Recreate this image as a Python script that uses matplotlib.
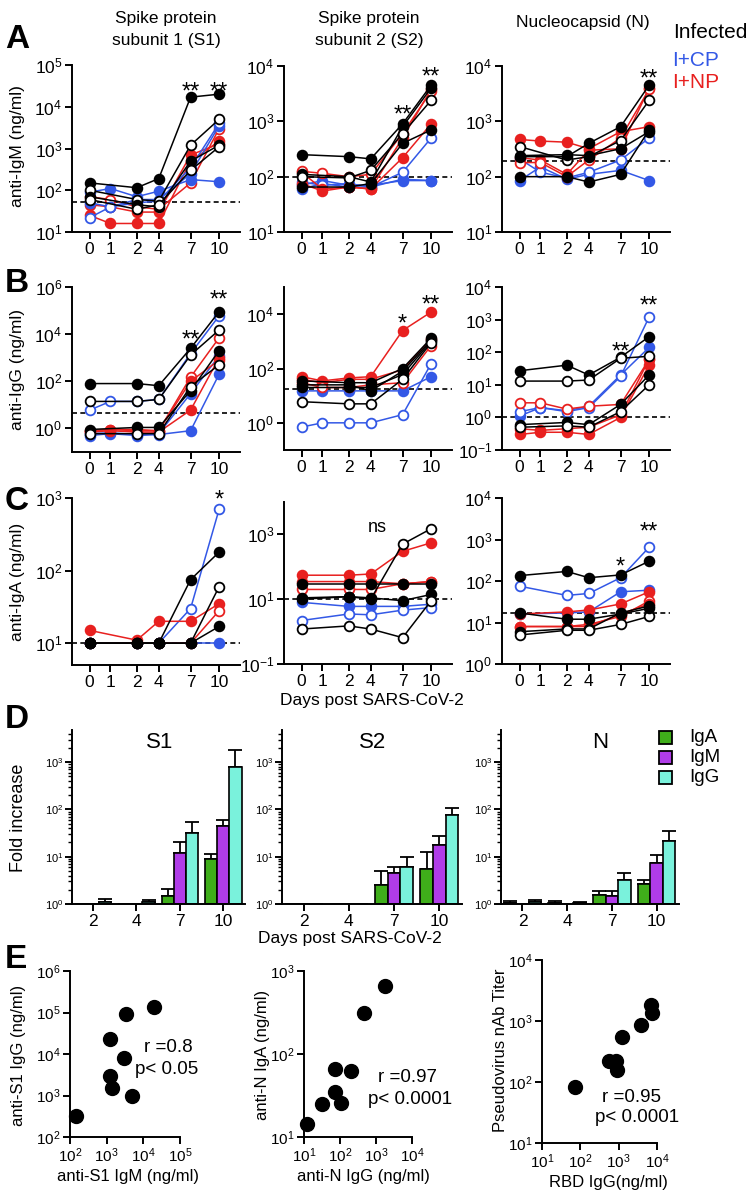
import numpy as np
import matplotlib
matplotlib.use("Agg")
import matplotlib.pyplot as plt
from matplotlib.patches import Rectangle
from matplotlib.ticker import FixedLocator, NullLocator, LogLocator, NullFormatter, LogFormatterSciNotation
import matplotlib.transforms as mtrans

plt.rcParams['font.family'] = ['Liberation Sans', 'DejaVu Sans']
plt.rcParams['mathtext.default'] = 'regular'

nan = np.nan

# ---------------- data ----------------
days = [0, 1, 2, 4, 7, 10]
group_names = {'I': 'Infected', 'CP': 'I+CP', 'NP': 'I+NP'}

# (group, filled marker, values per day)
A_S1 = [
    ('NP', True,  [25, 16, 16, 16, 500, 1500]),
    ('NP', True,  [45, 40, 30, 30, 700, 1300]),
    ('NP', False, [70, 60, 40, 35, 150, 3000]),
    ('CP', True,  [90, 110, 70, 95, 180, 160]),
    ('CP', True,  [50, 40, 60, 60, 250, 3500]),
    ('CP', False, [22, 40, 50, 55, 350, 4000]),
    ('I',  True,  [150, nan, 115, 190, 17000, 20000]),
    ('I',  False, [100, nan, 60, 55, 1200, 5000]),
    ('I',  True,  [70, nan, 45, 40, 500, 1200]),
    ('I',  False, [60, nan, 35, 45, 300, 1100]),
]
A_S2 = [
    ('CP', True,  [70, 85, 70, 70, 85, 85]),
    ('CP', True,  [60, 75, 65, 65, 90, 85]),
    ('CP', False, [80, 70, 75, 65, 120, 500]),
    ('NP', True,  [120, 60, 65, 60, 220, 900]),
    ('NP', True,  [75, 55, 65, 60, 500, 3800]),
    ('NP', False, [125, 115, 100, 110, 600, 3500]),
    ('I',  True,  [250, nan, 230, 210, 900, 4500]),
    ('I',  True,  [110, nan, 100, 80, 800, 4000]),
    ('I',  True,  [65, nan, 65, 75, 400, 700]),
    ('I',  False, [100, nan, 95, 130, 600, 2400]),
]
A_N = [
    ('CP', True,  [85, 150, 90, 110, 130, 85]),
    ('CP', False, [210, 120, 95, 120, 200, 500]),
    ('NP', True,  [470, 440, 420, 320, 650, 800]),
    ('NP', True,  [220, 200, 110, 300, 320, 4000]),
    ('NP', False, [180, 180, 100, 200, 500, 3800]),
    ('I',  True,  [230, nan, 230, 400, 800, 4500]),
    ('I',  True,  [100, nan, 100, 80, 110, 700]),
    ('I',  False, [350, nan, 200, 230, 450, 2400]),
    ('I',  True,  [240, nan, 250, 240, 320, 650]),
]
B_S1 = [
    ('CP', True,  [0.5, 0.6, 0.5, 0.55, 0.8, 200]),
    ('CP', True,  [0.6, 0.65, 0.55, 0.6, 30, 1200]),
    ('CP', False, [6, 14, 14, 17, 1500, 60000]),
    ('NP', False, [0.8, 0.9, 0.8, 0.8, 150, 7000]),
    ('NP', True,  [0.7, 0.8, 0.7, 0.7, 6, 1000]),
    ('NP', True,  [0.8, 0.9, 0.9, 0.8, 100, 800]),
    ('I',  True,  [80, nan, 80, 65, 2500, 90000]),
    ('I',  False, [14, nan, 14, 17, 1300, 15000]),
    ('I',  True,  [0.9, nan, 1.1, 1.1, 40, 2000]),
    ('I',  False, [0.6, nan, 0.6, 0.6, 60, 500]),
]
B_S2 = [
    ('CP', True,  [15, 15, 15, 15, 15, 50]),
    ('CP', False, [0.7, 1.0, 1.0, 1.0, 2.0, 150]),
    ('NP', True,  [50, 35, 45, 50, 2500, 12000]),
    ('NP', True,  [40, 30, 40, 40, 90, 1200]),
    ('NP', False, [30, 20, 20, 25, 30, 700]),
    ('I',  True,  [35, nan, 30, 30, 100, 1300]),
    ('I',  True,  [25, nan, 25, 15, 80, 1100]),
    ('I',  True,  [20, nan, 20, 20, 60, 1000]),
    ('I',  False, [6, nan, 5, 5, 40, 900]),
]
B_N = [
    ('CP', True,  [1.1, 2.0, 1.6, 2.2, 20, 140]),
    ('CP', False, [1.5, 2.0, 1.5, 2.0, 18, 1200]),
    ('NP', False, [2.8, 2.8, 1.8, 2.2, 2.5, 60]),
    ('NP', True,  [0.3, 0.35, 0.35, 0.3, 1.0, 40]),
    ('NP', True,  [0.45, 0.4, 0.45, 0.5, 1.2, 60]),
    ('I',  True,  [27, nan, 40, 20, 70, 300]),
    ('I',  False, [13, nan, 13, 14, 65, 75]),
    ('I',  True,  [0.6, nan, 0.7, 0.6, 2.5, 20]),
    ('I',  False, [0.5, nan, 0.55, 0.5, 1.5, 10]),
]
C_S1 = [
    ('CP', True,  [10, nan, 10, 10, 10, 10]),
    ('CP', False, [10, nan, 10, 10, 30, 700]),
    ('NP', True,  [15, nan, 11, 20, 20, 35]),
    ('NP', False, [10, nan, 10, 10, 10, 28]),
    ('I',  True,  [10, nan, 10, 10, 75, 180]),
    ('I',  False, [10, nan, 10, 10, 10, 60]),
    ('I',  True,  [10, nan, 10, 10, 10, 17]),
]
C_S2 = [
    ('CP', True,  [8, nan, 6, 6, 6, 7]),
    ('CP', False, [2.2, nan, 3.5, 3.3, 4.6, 5.5]),
    ('NP', True,  [55, nan, 55, 60, 300, 550]),
    ('NP', True,  [35, nan, 35, 35, 30, 35]),
    ('NP', False, [20, nan, 20, 20, 30, 35]),
    ('I',  False, [10, nan, 12, 10, 500, 1500]),
    ('I',  True,  [30, nan, 30, 30, 30, 30]),
    ('I',  True,  [11, nan, 12, 11, 9, 14]),
    ('I',  False, [1.2, nan, 1.5, 1.2, 0.65, 9]),
]
C_N = [
    ('CP', False, [75, nan, 45, 50, 120, 650]),
    ('CP', True,  [16, nan, 17, 18, 55, 60]),
    ('NP', True,  [16, nan, 18, 20, 28, 55]),
    ('NP', False, [8, nan, 8, 9, 14, 33]),
    ('NP', True,  [8, nan, 8, 8, 16, 28]),
    ('I',  True,  [135, nan, 170, 120, 140, 300]),
    ('I',  True,  [6, nan, 7, 7, 17, 25]),
    ('I',  False, [5, nan, 6.5, 6.5, 9, 14]),
    ('I',  True,  [17, nan, 12, 12, 16, 22]),
]

# Panel D: fold increase (mean and upper error)
fold_days = [2, 4, 7, 10]
isotypes = ['IgA', 'IgM', 'IgG']
D_S1_mean = {'IgA': [1.0, 1.02, 1.45, 9.0], 'IgM': [1.0, 1.0, 12, 45], 'IgG': [1.08, 1.1, 32, 800]}
D_S1_err  = {'IgA': [0, 0, 0.65, 2.5],      'IgM': [0, 0, 8, 15],      'IgG': [0.17, 0.12, 23, 1000]}
D_S2_mean = {'IgA': [1.0, 1.0, 2.5, 5.5],   'IgM': [1.0, 1.0, 4.5, 18], 'IgG': [1.0, 1.0, 6, 75]}
D_S2_err  = {'IgA': [0, 0, 2.5, 7],         'IgM': [0, 0, 1.5, 10],     'IgG': [0, 0, 4, 30]}
D_N_mean  = {'IgA': [1.05, 1.04, 1.55, 2.7], 'IgM': [1.0, 1.0, 1.45, 7.5], 'IgG': [1.08, 1.06, 3.2, 21]}
D_N_err   = {'IgA': [0.12, 0.11, 0.3, 0.5],  'IgM': [0, 0, 0.4, 3.5],      'IgG': [0.15, 0.06, 1.3, 14]}

# Panel E: correlations
E1_x = [19500, 3400, 1230, 3000, 1230, 1400, 5000, 145]      # anti-S1 IgM
E1_y = [1.35e5, 9e4, 2.3e4, 8000, 2950, 1500, 1000, 320]     # anti-S1 IgG
E2_x = [1780, 470, 72, 200, 72, 107, 32, 12]                 # anti-N IgG
E2_y = [660, 310, 66, 63, 35, 26, 25, 14.5]                  # anti-N IgA
E3_x = [7000, 7500, 3800, 1200, 550, 830, 900, 74]           # RBD IgG
E3_y = [1800, 1350, 860, 540, 225, 225, 160, 83]             # nAb titer

# ---------------- styling ----------------
W, H = 751, 1199
COL = {'I': '#000000', 'CP': '#3358e6', 'NP': '#e8201f'}
BAR_COL = {'IgA': '#3fae1a', 'IgM': '#b03ce8', 'IgG': '#7af2dc'}
day_pos = [0, 0.95, 2.15, 3.15, 4.6, 5.9]

fig = plt.figure(figsize=(W / 100, H / 100), dpi=100)


def make_ax(x0, y0, x1, y1):
    return fig.add_axes([x0 / W, 1 - y1 / H, (x1 - x0) / W, (y1 - y0) / H])


def style(ax, lw=1.4, size=12.5):
    for s in ['top', 'right']:
        ax.spines[s].set_visible(False)
    for s in ['left', 'bottom']:
        ax.spines[s].set_linewidth(lw)
    ax.tick_params(which='major', direction='out', length=5, width=lw, labelsize=size, pad=2)
    ax.patch.set_alpha(0)


def ftext(x, y, s, **kw):
    fig.text(x / W, 1 - y / H, s, **kw)


def line_panel(ax, series, ylim, yticks, dash):
    style(ax)
    ax.set_yscale('log')
    ax.set_ylim(ylim)
    ax.set_xlim(-0.8, 6.85)
    ax.yaxis.set_major_locator(FixedLocator(yticks))
    ax.yaxis.set_minor_locator(NullLocator())
    ax.yaxis.set_major_formatter(LogFormatterSciNotation())
    ax.set_xticks(day_pos)
    ax.set_xticklabels([str(d) for d in days])
    ax.axhline(dash, color='black', ls=(0, (3, 2)), lw=1.2, zorder=1)
    for grp, filled, vals in series:
        v = np.array(vals, float)
        m = ~np.isnan(v)
        c = COL[grp]
        ax.plot(np.array(day_pos)[m], v[m], '-o', color=c, lw=1.1, ms=7, mew=1.3,
                mec=c, mfc=c if filled else 'white', clip_on=False, zorder=3)


def mark(ax, di, ypx, s, size=17):
    tr = mtrans.blended_transform_factory(ax.transData, fig.transFigure)
    em = size * 100 / 72
    off = 0.57 * em if '*' in s else 0.26 * em
    ax.text(day_pos[di] if isinstance(di, int) else di, 1 - (ypx + off) / H, s, transform=tr,
            ha='center', va='baseline', fontsize=size, clip_on=False)


line_specs = [
    (A_S1, (72, 65, 240, 232), (10, 1e5), [10, 1e2, 1e3, 1e4, 1e5], 52),
    (A_S2, (284, 66, 452, 232), (10, 1e4), [10, 1e2, 1e3, 1e4], 98),
    (A_N, (502, 66, 670, 232), (10, 1e4), [10, 1e2, 1e3, 1e4], 195),
    (B_S1, (72, 287, 240, 452), (0.1, 1e6), [1, 1e2, 1e4, 1e6], 4.4),
    (B_S2, (284, 287, 452, 450), (0.1, 1e5), [1, 1e2, 1e4], 17),
    (B_N, (502, 287, 670, 450), (0.1, 1e4), [0.1, 1, 10, 1e2, 1e3, 1e4], 1.0),
    (C_S1, (72, 498, 240, 665), (5, 1e3), [10, 1e2, 1e3], 10),
    (C_S2, (284, 502, 452, 664), (0.1, 1e4), [0.1, 10, 1e3], 10),
    (C_N, (502, 498, 670, 664), (1, 1e4), [1, 10, 1e2, 1e3, 1e4], 16.5),
]
axs = []
for series, box, ylim, yt, dash in line_specs:
    ax = make_ax(*box)
    line_panel(ax, series, ylim, yt, dash)
    axs.append(ax)

# significance marks
mark(axs[0], 4, 85, '**'); mark(axs[0], 5, 85, '**')
mark(axs[1], 4, 108, '**'); mark(axs[1], 5, 70, '**')
mark(axs[2], 5, 72, '**')
mark(axs[3], 4, 333, '**'); mark(axs[3], 5, 293, '**')
mark(axs[4], 4, 317, '*'); mark(axs[4], 5, 298, '**')
mark(axs[5], 4, 345, '**'); mark(axs[5], 5, 299, '**')
mark(axs[6], 5, 493, '*')
mark(axs[7], 3.45, 527, 'ns', size=13)
mark(axs[8], 4, 560, '*'); mark(axs[8], 5, 525, '**')

# titles / labels for rows A-C
ftext(166, 18, 'Spike protein', ha='center', va='center', fontsize=12.5)
ftext(166, 40, 'subunit 1 (S1)', ha='center', va='center', fontsize=12.5)
ftext(369, 18, 'Spike protein', ha='center', va='center', fontsize=12.5)
ftext(369, 40, 'subunit 2 (S2)', ha='center', va='center', fontsize=12.5)
ftext(583, 22, 'Nucleocapsid (N)', ha='center', va='center', fontsize=12.5)
ftext(673, 33, group_names['I'], ha='left', va='center', fontsize=15, color=COL['I'])
ftext(672, 61, group_names['CP'], ha='left', va='center', fontsize=15, color=COL['CP'])
ftext(672, 83, group_names['NP'], ha='left', va='center', fontsize=15, color=COL['NP'])
ftext(18, 146, 'anti-IgM (ng/ml)', ha='center', va='center', rotation=90, fontsize=12.5)
ftext(18, 370, 'anti-IgG (ng/ml)', ha='center', va='center', rotation=90, fontsize=12.5)
ftext(18, 582, 'anti-IgA (ng/ml)', ha='center', va='center', rotation=90, fontsize=12.5)
ftext(372, 700, 'Days post SARS-CoV-2', ha='center', va='center', fontsize=12.5)
for letter, y in [('A', 39), ('B', 283), ('C', 501), ('D', 719), ('E', 959)]:
    ftext(5, y, letter, ha='left', va='center', fontsize=24, fontweight='bold')

# ---------------- row D ----------------
bar_specs = [
    ('S1', D_S1_mean, D_S1_err, (72, 730, 245, 904), 160),
    ('S2', D_S2_mean, D_S2_err, (282, 730, 462, 904), 373),
    ('N', D_N_mean, D_N_err, (501, 730, 679, 904), 600),
]
bw = 0.28
for title, means, errs, box, tx in bar_specs:
    ax = make_ax(*box)
    style(ax)
    ax.set_yscale('log')
    ax.set_ylim(1, 10 ** 3.68)
    ax.set_xlim(-0.48, 3.5)
    ax.yaxis.set_major_locator(FixedLocator([1, 10, 100, 1000]))
    ax.yaxis.set_major_formatter(LogFormatterSciNotation())
    ax.yaxis.set_minor_locator(LogLocator(base=10, subs=np.arange(2, 10)))
    ax.yaxis.set_minor_formatter(NullFormatter())
    ax.tick_params(axis='y', which='major', labelsize=8, length=5, pad=1)
    ax.tick_params(axis='y', which='minor', length=3, width=1.0, direction='out')
    ax.set_xticks(np.arange(len(fold_days)))
    ax.set_xticklabels([str(d) for d in fold_days])
    x = np.arange(len(fold_days))
    for k, iso in enumerate(isotypes):
        xs = x + (k - 1) * bw
        m = np.array(means[iso], float)
        e = np.array(errs[iso], float)
        ax.bar(xs, m - 1, bottom=1, width=bw, color=BAR_COL[iso], edgecolor='black', lw=1.2, zorder=2)
        sel = e > 0
        ax.errorbar(xs[sel], m[sel], yerr=[np.zeros(sel.sum()), e[sel]], fmt='none',
                    ecolor='black', elinewidth=1.3, capsize=5, capthick=1.3, zorder=1)
    ftext(tx, 742, title, ha='center', va='center', fontsize=16)

for k, iso in enumerate(isotypes):
    yc = 737 + 20 * k
    fig.add_artist(Rectangle((659 / W, 1 - (yc + 6.5) / H), 13 / W, 13 / H,
                             transform=fig.transFigure, facecolor=BAR_COL[iso],
                             edgecolor='black', lw=1.3))
    ftext(689, yc, iso, ha='left', va='center', fontsize=13.5)
ftext(19, 818, 'Fold increase', ha='center', va='center', rotation=90, fontsize=13)
ftext(350, 939, 'Days post SARS-CoV-2', ha='center', va='center', fontsize=12.5)

# ---------------- row E ----------------
scat_specs = [
    (E1_x, E1_y, (70, 971, 180, 1137), (1e2, 1e5), (1e2, 1e6),
     [1e2, 1e3, 1e4, 1e5], [1e2, 1e3, 1e4, 1e5, 1e6]),
    (E2_x, E2_y, (304, 971, 412, 1137), (10, 1e4), (10, 1e3),
     [10, 1e2, 1e3, 1e4], [10, 1e2, 1e3]),
    (E3_x, E3_y, (542, 960, 657, 1143), (10, 1e4), (10, 1e4),
     [10, 1e2, 1e3, 1e4], [10, 1e2, 1e3, 1e4]),
]
for xs, ys, box, xl, yl, xt, yt in scat_specs:
    ax = make_ax(*box)
    style(ax, size=11)
    ax.set_xscale('log'); ax.set_yscale('log')
    ax.set_xlim(xl); ax.set_ylim(yl)
    ax.xaxis.set_major_locator(FixedLocator(xt)); ax.yaxis.set_major_locator(FixedLocator(yt))
    ax.xaxis.set_minor_locator(NullLocator()); ax.yaxis.set_minor_locator(NullLocator())
    ax.xaxis.set_major_formatter(LogFormatterSciNotation())
    ax.yaxis.set_major_formatter(LogFormatterSciNotation())
    ax.plot(xs, ys, 'o', color='black', ms=10, clip_on=False, zorder=3)

ftext(144, 1048, 'r =0.8', ha='left', va='center', fontsize=13.5)
ftext(135, 1070, 'p< 0.05', ha='left', va='center', fontsize=13.5)
ftext(378, 1077, 'r =0.97', ha='left', va='center', fontsize=13.5)
ftext(368, 1099, 'p< 0.0001', ha='left', va='center', fontsize=13.5)
ftext(602, 1097, 'r =0.95', ha='left', va='center', fontsize=13.5)
ftext(595, 1118, 'p< 0.0001', ha='left', va='center', fontsize=13.5)
ftext(128, 1176, 'anti-S1 IgM (ng/ml)', ha='center', va='center', fontsize=12)
ftext(363, 1176, 'anti-N IgG (ng/ml)', ha='center', va='center', fontsize=12)
ftext(608, 1182, 'RBD IgG(ng/ml)', ha='center', va='center', fontsize=12)
ftext(19, 1055, 'anti-S1 IgG (ng/ml)', ha='center', va='center', rotation=90, fontsize=12)
ftext(262, 1055, 'anti-N IgA (ng/ml)', ha='center', va='center', rotation=90, fontsize=12)
ftext(500, 1050, 'Pseudovirus nAb Titer', ha='center', va='center', rotation=90, fontsize=12)

fig.savefig('out.png', dpi=100)
